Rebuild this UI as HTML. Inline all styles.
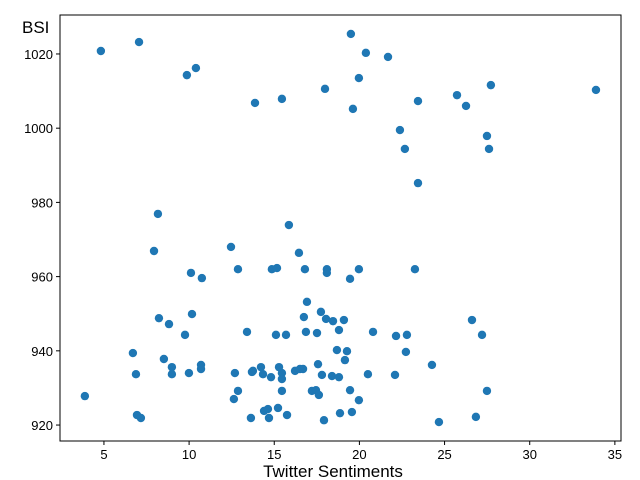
<!DOCTYPE html>
<html><head><meta charset="utf-8"><style>
body{margin:0;background:#fff;}
svg{display:block;font-family:"Liberation Sans",sans-serif;}
</style></head><body>
<svg id="chart" width="640" height="480">
<rect x="0" y="0" width="640" height="480" fill="#fff"/>
<g id="marks"></g>
<g id="axes"></g>
<rect x="60" y="15" width="561" height="426" fill="none" stroke="#000" stroke-width="1"/>
<text x="22" y="33" font-size="17">BSI</text>
<text x="333" y="477" font-size="17" text-anchor="middle">Twitter Sentiments</text>
</svg>
<script>
const xVals=[4.82,7.06,9.87,10.40,13.87,15.45,17.98,19.50,20.38,21.68,19.97,19.62,22.38,22.67,23.44,23.44,25.73,26.26,27.72,27.49,27.61,33.89,8.17,7.94,12.46,10.11,10.75,12.87,8.23,8.82,10.17,9.76,13.40,6.70,8.52,8.99,8.99,6.88,9.99,10.70,10.70,12.69,13.69,12.87,12.63,3.88,6.94,7.17,13.63,15.86,16.45,14.86,15.16,16.80,18.09,18.09,19.97,19.45,23.26,16.92,17.74,16.74,18.04,18.45,19.09,15.10,15.69,16.86,17.51,18.80,20.80,22.15,22.79,18.68,19.27,19.15,22.73,24.26,17.57,13.75,14.22,14.34,14.81,15.28,15.45,15.45,16.22,16.51,16.69,17.80,18.39,18.80,20.50,22.09,15.45,17.21,17.45,17.62,19.45,19.97,14.40,14.63,15.22,14.69,15.75,17.92,18.86,19.56,24.67,26.61,27.20,26.84,27.49];
const yVals=[1020.8,1023.2,1014.3,1016.2,1006.8,1007.9,1010.6,1025.4,1020.3,1019.2,1013.5,1005.2,999.5,994.4,1007.3,985.2,1008.9,1006.0,1011.6,997.9,994.4,1010.3,976.9,966.9,968.0,961.0,959.6,962.0,948.8,947.2,949.9,944.3,945.1,939.4,937.8,935.6,933.7,933.7,934.0,936.2,935.1,934.0,934.3,929.2,927.0,927.8,922.7,921.9,921.9,973.9,966.4,962.0,962.3,962.0,962.0,961.0,962.0,959.4,962.0,953.2,950.5,949.1,948.6,948.0,948.3,944.3,944.3,945.1,944.8,945.6,945.1,944.0,944.3,940.2,939.9,937.5,939.7,936.2,936.4,934.6,935.6,933.7,932.9,935.6,934.0,932.4,934.6,935.1,935.1,933.5,933.2,932.9,933.7,933.5,929.2,929.2,929.4,928.1,929.4,926.7,923.8,924.3,924.6,921.9,922.7,921.3,923.2,923.5,920.8,948.3,944.3,922.2,929.2];
const xTicks=[5,10,15,20,25,30,35];
const yTicks=[920,940,960,980,1000,1020];
const NS="http://www.w3.org/2000/svg";
const L=60,R=621,T=15,B=441,xMin=2.42,xMax=35.36,yMin=915.7,yMax=1030.5;
function sx(v){return L+(v-xMin)/(xMax-xMin)*(R-L);}
function sy(v){return B-(v-yMin)/(yMax-yMin)*(B-T);}
const marks=document.getElementById('marks');
for(let i=0;i<xVals.length;i++){
 const c=document.createElementNS(NS,'circle');
 c.setAttribute('cx',sx(xVals[i]));c.setAttribute('cy',sy(yVals[i]));c.setAttribute('r',4.2);c.setAttribute('fill','#1f77b4');
 
 
 marks.appendChild(c);
}
const axes=document.getElementById('axes');
xTicks.forEach(t=>{
 const x=sx(t);
 const l=document.createElementNS(NS,'line');
 l.setAttribute('x1',x);l.setAttribute('x2',x);l.setAttribute('y1',B);l.setAttribute('y2',B+4);l.setAttribute('stroke','#000');
 
 
 axes.appendChild(l);
 const tx=document.createElementNS(NS,'text');
 tx.setAttribute('x',x);tx.setAttribute('y',B+18);tx.setAttribute('font-size','13');tx.setAttribute('text-anchor','middle');
 tx.textContent=t;
 
 
 axes.appendChild(tx);
});
yTicks.forEach(t=>{
 const y=sy(t);
 const l=document.createElementNS(NS,'line');
 l.setAttribute('x1',L-4);l.setAttribute('x2',L);l.setAttribute('y1',y);l.setAttribute('y2',y);l.setAttribute('stroke','#000');
 
 
 axes.appendChild(l);
 const tx=document.createElementNS(NS,'text');
 tx.setAttribute('x',L-7);tx.setAttribute('y',y+5);tx.setAttribute('font-size','13');tx.setAttribute('text-anchor','end');
 tx.textContent=t;
 
 
 axes.appendChild(tx);
});
</script>
</body></html>
